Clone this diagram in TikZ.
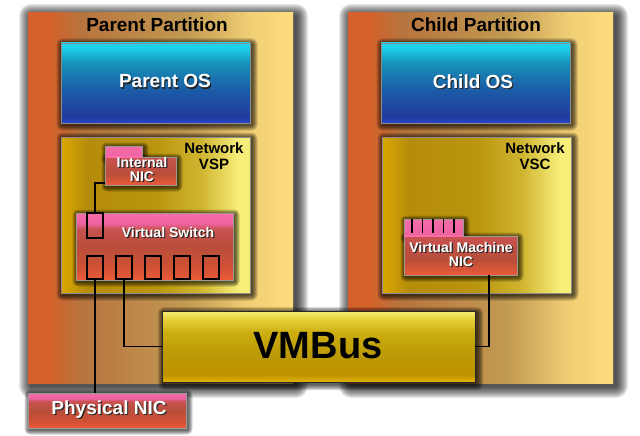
\documentclass[tikz,border=0pt]{standalone}
\usepackage{fontspec}
\setmainfont{Liberation Sans}
\usetikzlibrary{calc}
\definecolor{pL}{HTML}{D5612A}
\definecolor{pB}{HTML}{B7743E}
\definecolor{pM}{HTML}{C29A52}
\definecolor{pR}{HTML}{FDDD7E}
\definecolor{osB}{HTML}{2B45CF}
\definecolor{osD}{HTML}{1F3C9E}
\definecolor{osM}{HTML}{1C5AA6}
\definecolor{osL}{HTML}{1690B8}
\definecolor{osC}{HTML}{1DD2EA}
\definecolor{vA}{HTML}{DAA700}
\definecolor{vB}{HTML}{B58C0A}
\definecolor{vC}{HTML}{BA950E}
\definecolor{vD}{HTML}{D0B530}
\definecolor{vE}{HTML}{F7EE7A}
\definecolor{rA}{HTML}{EC5A38}
\definecolor{rB}{HTML}{D05036}
\definecolor{rC}{HTML}{B84E3A}
\definecolor{rD}{HTML}{C85250}
\definecolor{pkA}{HTML}{EC62A0}
\definecolor{pkB}{HTML}{F86CAA}
\definecolor{bA}{HTML}{E2B400}
\definecolor{bB}{HTML}{C09200}
\definecolor{bC}{HTML}{BC9A08}
\definecolor{bD}{HTML}{CCAE10}
\definecolor{bE}{HTML}{E8D440}
\definecolor{bF}{HTML}{F8F078}
\pgfdeclarehorizontalshading{partsh}{100bp}{color(0bp)=(pL); color(25bp)=(pL); color(29bp)=(pL); color(35bp)=(pB); color(55bp)=(pM); color(67bp)=(pR!80!pM); color(75bp)=(pR); color(100bp)=(pR)}
\pgfdeclareverticalshading{ossh}{100bp}{color(0bp)=(osB); color(25bp)=(osB); color(29bp)=(osD); color(45bp)=(osM); color(62bp)=(osL); color(72bp)=(osC); color(100bp)=(osC)}
\pgfdeclarehorizontalshading{vspsh}{100bp}{color(0bp)=(vA); color(25bp)=(vA); color(32bp)=(vB); color(50bp)=(vC); color(62bp)=(vD); color(72bp)=(vE); color(100bp)=(vE)}
\pgfdeclareverticalshading{swsh}{100bp}{color(0bp)=(rA); color(25bp)=(rA); color(35bp)=(rB); color(50bp)=(rC); color(63bp)=(rD); color(67bp)=(pkA); color(75bp)=(pkB); color(100bp)=(pkB)}
\pgfdeclareverticalshading{bodysh}{100bp}{color(0bp)=(rA); color(25bp)=(rA); color(45bp)=(rC); color(75bp)=(rD); color(100bp)=(rD)}
\pgfdeclareverticalshading{tabsh}{100bp}{color(0bp)=(pkA); color(25bp)=(pkA); color(75bp)=(pkB); color(100bp)=(pkB)}
\pgfdeclareverticalshading{vmbsh}{100bp}{color(0bp)=(bA); color(25bp)=(bA); color(30bp)=(bB); color(45bp)=(bC); color(60bp)=(bD); color(70bp)=(bE); color(75bp)=(bF); color(100bp)=(bF)}
\newcommand\shd[1]{\leavevmode\rlap{\kern1.2pt\raisebox{-1.2pt}{\textcolor{black!85}{#1}}}\textcolor{white}{#1}}
% soft drop shadow: x y w h offset spread opacity
\newcommand\dropsh[7]{%
  \foreach \k in {1,...,#6}{%
    \fill[black,opacity=#7,rounded corners=\k pt]
      ({#1+#5-\k},{#2+#5-\k}) rectangle ({#1+#3+#5+\k},{#2+#4+#5+\k});}}
\tikzset{
  box/.style={anchor=north west, inner sep=0pt, outer sep=0pt, rectangle},
  part/.style={box, shading=partsh, minimum width=265pt, minimum height=370pt},
  osbox/.style={box, shading=ossh, draw=black!45, line width=0.5pt, minimum width=189pt, minimum height=80pt},
  vbox/.style={box, shading=vspsh, draw=black!45, line width=0.5pt, minimum width=189pt, minimum height=156pt},
  port/.style={box, draw=black, line width=1.6pt, minimum width=16pt, minimum height=23pt},
  wire/.style={draw=black, line width=1.6pt},
  ttl/.style={font=\bfseries\fontsize{19}{22}\selectfont, text=black},
  wt/.style={font=\bfseries\fontsize{19}{22}\selectfont, align=center},
  st/.style={font=\bfseries\fontsize{14}{14.5}\selectfont, align=center},
  nt/.style={font=\bfseries\fontsize{15}{16}\selectfont, align=center, text=black}
}
\begin{document}
\begin{tikzpicture}[x=1pt,y=-1pt]
\useasboundingbox (0,0) rectangle (640,436);
% partitions
\dropsh{28}{13}{265}{370}{3}{12}{0.085}
\dropsh{348}{13}{265}{370}{3}{12}{0.085}
\node[part] (pp) at (28,13) {};
\node[part] (cp) at (348,13) {};
\node[ttl] (ppl) at (157,25) {Parent Partition};
\node[ttl] (cpl) at (476,25) {Child Partition};
% OS
\dropsh{61}{43}{189}{80}{1.5}{6}{0.15}
\dropsh{381}{43}{189}{80}{1.5}{6}{0.15}
\node[osbox] (pos) at (61,43) {};
\node[osbox] (cos) at (381,43) {};
\node[wt] (posl) at (165,82) {\shd{Parent OS}};
\node[wt] (cosl) at (473,82) {\shd{Child OS}};
% VSP / VSC
\dropsh{61}{137}{189}{156}{1.5}{6}{0.15}
\dropsh{382}{137}{189}{156}{1.5}{6}{0.15}
\node[vbox] (vsp) at (61,137) {};
\node[vbox] (vsc) at (382,137) {};
\node[nt] (vspl) at (214,156) {Network\\VSP};
\node[nt] (vscl) at (535,156) {Network\\VSC};
% internal NIC
\dropsh{105}{146}{37}{12}{1.5}{5}{0.16}
\dropsh{105}{157}{71}{28}{1.5}{5}{0.16}
\node[box, shading=tabsh, draw=black!40, line width=0.4pt, minimum width=37pt, minimum height=12pt] (inict) at (105,146) {};
\node[box, shading=bodysh, draw=black!40, line width=0.4pt, minimum width=71pt, minimum height=28pt] (inic) at (105,157) {};
\fill[pkB] (105.3,156) rectangle (141.7,158);
\node[st] (inicl) at (142,170) {\shd{Internal}\\\shd{NIC}};
% virtual switch
\dropsh{76}{213}{157}{67}{1.5}{5}{0.16}
\node[box, shading=swsh, draw=black!40, line width=0.4pt, minimum width=157pt, minimum height=67pt] (vsw) at (76,213) {};
\node[st] (vswl) at (168,233) {\shd{Virtual Switch}};
\node[port, minimum height=25pt] (p0) at (87,213) {};
\node[port] (p1) at (87,256) {};
\node[port] (p2) at (116,256) {};
\node[port] (p3) at (145,256) {};
\node[port] (p4) at (174,256) {};
\node[port] (p5) at (203,256) {};
% VM NIC
\dropsh{404}{219}{59}{18}{1.5}{5}{0.16}
\dropsh{404}{236}{113}{39}{1.5}{5}{0.16}
\node[box, shading=tabsh, draw=black!40, line width=0.4pt, minimum width=59pt, minimum height=18pt] (vmt) at (404,219) {};
\node[box, shading=bodysh, draw=black!40, line width=0.4pt, minimum width=113pt, minimum height=39pt] (vmnic) at (404,236) {};
\fill[pkB] (404.3,235) rectangle (462.7,237);
\foreach \xx in {412,422.5,433,443.5,454}
  \draw[line width=1.6pt] (\xx,219) -- (\xx,233);
\node[st] (vmnicl) at (461,255) {\shd{Virtual Machine}\\\shd{NIC}};
% VMBus
\dropsh{162}{311}{313}{71}{2}{6}{0.15}
\node[box, shading=vmbsh, draw=black!85, line width=0.8pt, minimum width=313pt, minimum height=71pt] (vmbus) at (162,311) {};
\node[font=\bfseries\fontsize{38}{40}\selectfont] (vmbusl) at (318,346) {VMBus};
% physical NIC
\dropsh{28}{393}{158}{35}{1.5}{5}{0.16}
\node[box, shading=swsh, draw=black!40, line width=0.4pt, minimum width=158pt, minimum height=35pt] (pnic) at (28,393) {};
\node[wt] (pnicl) at (109,410) {\shd{Physical NIC}};
% wires
\draw[wire] ($(inic.south west)+(0,-2)$) -| (p0.north);
\draw[wire] (p1.south) -- (p1.south |- pnic.north);
\draw[wire] (p2.south) |- (vmbus.west);
\draw[wire] ($(vmnic.south east)+(-28,0)$) |- (vmbus.east);
\end{tikzpicture}
\end{document}
